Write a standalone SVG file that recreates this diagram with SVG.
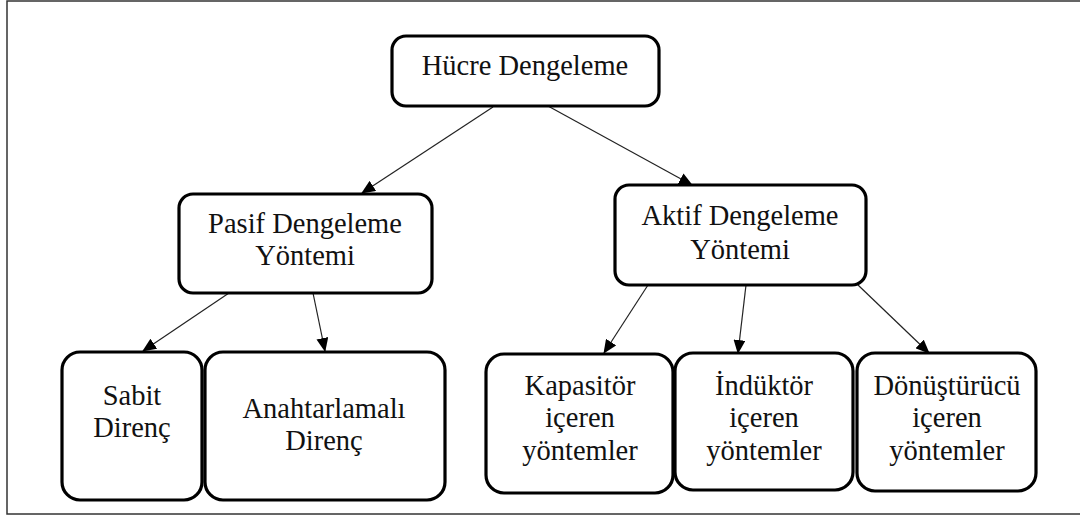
<svg xmlns="http://www.w3.org/2000/svg" width="1080" height="515" viewBox="0 0 1080 515">
<style>
.box{fill:#fff;stroke:#000;stroke-width:3.2}
.lbl{font-family:"Liberation Serif","Times New Roman",serif;font-size:28.5px;fill:#111;text-anchor:middle}
.con{stroke:#222;stroke-width:1.2;fill:none;marker-end:url(#ah)}
</style>
<defs>
<marker id="ah" markerUnits="userSpaceOnUse" markerWidth="14" markerHeight="12" viewBox="0 0 14 12" refX="13" refY="6" orient="auto">
<path d="M0,0 L14,6 L0,12 Z" fill="#000"/>
</marker>
</defs>
<rect x="7" y="1" width="1090" height="513" fill="#fff" stroke="#333" stroke-width="1.5"/>
<g id="connectors">
<line class="con" x1="493" y1="107" x2="362" y2="193"/>
<line class="con" x1="548" y1="106" x2="692" y2="185"/>
<line class="con" x1="229" y1="293" x2="143" y2="351"/>
<line class="con" x1="313" y1="293" x2="325" y2="351"/>
<line class="con" x1="648" y1="285" x2="604" y2="353"/>
<line class="con" x1="746" y1="285" x2="738" y2="353"/>
<line class="con" x1="858" y1="285" x2="929" y2="353"/>
</g>
<g id="hucre">
<rect class="box" x="392" y="36" width="267" height="70" rx="14"/>
<text class="lbl" x="525" y="75">Hücre Dengeleme</text>
</g>
<g id="pasif">
<rect class="box" x="179" y="194" width="253" height="99" rx="14"/>
<text class="lbl" x="305" y="233">Pasif Dengeleme</text>
<text class="lbl" x="305" y="265">Yöntemi</text>
</g>
<g id="aktif">
<rect class="box" x="615" y="185" width="251" height="100" rx="14"/>
<text class="lbl" x="740" y="225">Aktif Dengeleme</text>
<text class="lbl" x="740" y="259">Yöntemi</text>
</g>
<g id="sabit">
<rect class="box" x="62" y="352" width="140" height="148" rx="18"/>
<text class="lbl" x="132" y="405">Sabit</text>
<text class="lbl" x="132" y="437">Direnç</text>
</g>
<g id="anahtar">
<rect class="box" x="205" y="352" width="240" height="148" rx="18"/>
<text class="lbl" x="324" y="418">Anahtarlamalı</text>
<text class="lbl" x="324" y="450">Direnç</text>
</g>
<g id="kapasitor">
<rect class="box" x="486" y="354" width="187" height="139" rx="18"/>
<text class="lbl" x="580" y="395">Kapasitör</text>
<text class="lbl" x="580" y="427">içeren</text>
<text class="lbl" x="580" y="460">yöntemler</text>
</g>
<g id="induktor">
<rect class="box" x="675" y="353" width="178" height="137" rx="18"/>
<text class="lbl" x="764" y="395">İndüktör</text>
<text class="lbl" x="764" y="427">içeren</text>
<text class="lbl" x="764" y="460">yöntemler</text>
</g>
<g id="donusturucu">
<rect class="box" x="857" y="353" width="179" height="138" rx="18"/>
<text class="lbl" x="947" y="395">Dönüştürücü</text>
<text class="lbl" x="947" y="427">içeren</text>
<text class="lbl" x="947" y="460">yöntemler</text>
</g>
</svg>
